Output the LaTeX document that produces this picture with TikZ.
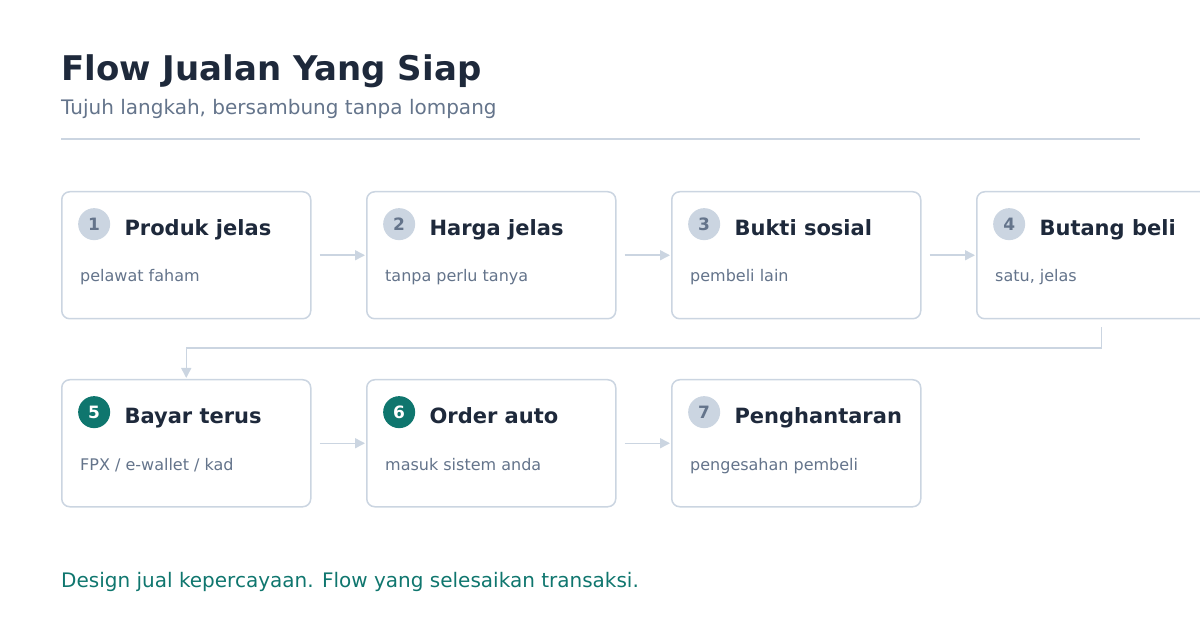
\documentclass[tikz,border=0pt]{standalone}
\usepackage{fontspec}
\setmainfont{DejaVu Sans}
\usetikzlibrary{arrows.meta, positioning}

\definecolor{edge}{HTML}{CBD5E1}
\definecolor{ink}{HTML}{1E293B}
\definecolor{muted}{HTML}{64748B}
\definecolor{teal}{HTML}{0F766E}

\begin{document}
\begin{tikzpicture}[x=1pt, y=-1pt, >={Triangle[length=10pt,width=10pt]}]
	\tikzset{
		card/.style={draw=edge, line width=1.5pt, rounded corners=8pt, fill=white, minimum width=249pt, minimum height=127pt, inner sep=0pt, anchor=north west},
		badge/.style={circle, fill=edge, text=muted, minimum size=32pt, inner sep=0pt, font=\fontsize{17}{20}\selectfont\bfseries},
		hotbadge/.style={badge, fill=teal, text=white},
		head/.style={text=ink, inner sep=0pt, text height=15pt, text depth=5pt, font=\fontsize{21}{25}\selectfont\bfseries},
		note/.style={text=muted, inner sep=0pt, anchor=base west, font=\fontsize{16}{19}\selectfont},
		flow/.style={->, draw=edge, line width=1.5pt, shorten >=1pt}
	}
	\useasboundingbox (0,0) rectangle (1200,620);

	\node[text=ink, inner sep=0pt, anchor=base west, font=\fontsize{34}{41}\selectfont\bfseries] (title) at (61,81) {Flow Jualan Yang Siap};
	\node[text=muted, inner sep=0pt, anchor=base west, font=\fontsize{20}{24}\selectfont] (subtitle) at (61,115) {Tujuh langkah, bersambung tanpa lompang};
	\draw[edge, line width=1.5pt] (61,139) -- (1140,139);

	% baris atas
	\node[card] (b1) at (61,191) {};
	\node[card] (b2) at (366,191) {};
	\node[card] (b3) at (671,191) {};
	\node[card] (b4) at (976,191) {};
	% baris bawah
	\node[card] (b5) at (61,379) {};
	\node[card] (b6) at (366,379) {};
	\node[card] (b7) at (671,379) {};

	\node[badge, below right=21.7pt and 21.7pt of b1.north west] (n1) {1};
	\node[badge, below right=21.7pt and 21.7pt of b2.north west] (n2) {2};
	\node[badge, below right=21.7pt and 21.7pt of b3.north west] (n3) {3};
	\node[badge, below right=21.7pt and 21.7pt of b4.north west] (n4) {4};
	\node[hotbadge, below right=21.7pt and 21.7pt of b5.north west] (n5) {5};
	\node[hotbadge, below right=21.7pt and 21.7pt of b6.north west] (n6) {6};
	\node[badge, below right=21.7pt and 21.7pt of b7.north west] (n7) {7};

	\node[head, right=14pt of n1, yshift=-6pt] (t1) {Produk jelas};
	\node[head, right=14pt of n2, yshift=-6pt] (t2) {Harga jelas};
	\node[head, right=14pt of n3, yshift=-6pt] (t3) {Bukti sosial};
	\node[head, right=14pt of n4, yshift=-6pt] (t4) {Butang beli};
	\node[head, right=14pt of n5, yshift=-6pt] (t5) {Bayar terus};
	\node[head, right=14pt of n6, yshift=-6pt] (t6) {Order auto};
	\node[head, right=14pt of n7, yshift=-6pt] (t7) {Penghantaran};

	\node[note] (s1) at (80,282) {pelawat faham};
	\node[note] (s2) at (385,282) {tanpa perlu tanya};
	\node[note] (s3) at (690,282) {pembeli lain};
	\node[note] (s4) at (995,282) {satu, jelas};
	\node[note] (s5) at (80,470) {FPX / e-wallet / kad};
	\node[note] (s6) at (385,470) {masuk sistem anda};
	\node[note] (s7) at (690,470) {pengesahan pembeli};

	\draw[flow] ([xshift=8pt]b1.east) -- (b2.west);
	\draw[flow] ([xshift=8pt]b2.east) -- (b3.west);
	\draw[flow] ([xshift=8pt]b3.east) -- (b4.west);
	\draw[flow] ([yshift=-8pt]b4.south) |- ([yshift=31pt]b5.north) -- (b5.north);
	\draw[flow] ([xshift=8pt]b5.east) -- (b6.west);
	\draw[flow] ([xshift=8pt]b6.east) -- (b7.west);

	\node[text=teal, inner sep=0pt, anchor=base west, font=\fontsize{20}{24}\selectfont] (footer) at (61,587) {Design jual kepercayaan. Flow yang selesaikan transaksi.};
\end{tikzpicture}
\end{document}
